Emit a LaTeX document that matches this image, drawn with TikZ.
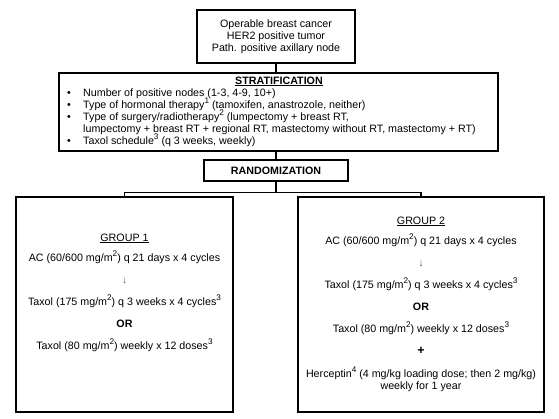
\documentclass[tikz,border=0pt]{standalone}
\usepackage{fontspec}
\setmainfont{Liberation Sans}
\newcommand{\mysup}[1]{\raisebox{0.4em}{\fontsize{8.2}{9}\selectfont #1}}
\begin{document}
\begin{tikzpicture}[x=1pt,y=-1pt,
  box/.style={draw, line width=1.2pt, inner sep=0pt},
  conn/.style={line width=1.1pt},
  txt/.style={font=\fontsize{10.7}{12}\selectfont, inner sep=0pt, anchor=base},
  ltxt/.style={txt, anchor=base west},
  bul/.style={font=\fontsize{10.7}{12}\selectfont, inner sep=0pt, anchor=base}]
\useasboundingbox (0,0) rectangle (559,418);
% boxes
\node[box, minimum width=158pt, minimum height=53pt, align=center,
      font=\fontsize{10.7}{12}\selectfont] (top) at (276,36.5)
      {Operable breast cancer\\HER2 positive tumor\\Path. positive axillary node};
\node[box, minimum width=439pt, minimum height=78pt] (strat) at (278.5,112) {};
\node[box, minimum width=144pt, minimum height=21pt,
      font=\fontsize{10.7}{12}\selectfont\bfseries] (rand) at (276,170.5) {RANDOMIZATION};
\node[box, minimum width=217pt, minimum height=215pt] (g1) at (124.5,304.5) {};
\node[box, minimum width=246pt, minimum height=215pt] (g2) at (421,304.5) {};
% stratification text
\node[txt, font=\fontsize{10.7}{12}\selectfont\bfseries] (sh) at (279,84) {\underline{STRATIFICATION}};
\node[bul] (b1) at (69,96) {•};
\node[ltxt] (s1) at (83,96) {Number of positive nodes (1-3, 4-9, 10+)};
\node[bul] (b2) at (69,108) {•};
\node[ltxt] (s2) at (83,108) {Type of hormonal therapy\mysup{1} (tamoxifen, anastrozole, neither)};
\node[bul] (b3) at (69,120) {•};
\node[ltxt] (s3) at (83,120) {Type of surgery/radiotherapy\mysup{2} (lumpectomy + breast RT,};
\node[ltxt] (s3b) at (83,132) {lumpectomy + breast RT + regional RT, mastectomy without RT, mastectomy + RT)};
\node[bul] (b4) at (69,144) {•};
\node[ltxt] (s4) at (83,144) {Taxol schedule\mysup{3} (q 3 weeks, weekly)};
% group 1 text
\node[txt] (h1) at (124.5,241) {\underline{GROUP 1}};
\node[txt] (a1) at (124.5,261) {AC (60/600 mg/m\mysup{2}) q 21 days x 4 cycles};
\node[txt, font=\fontsize{10}{10}\selectfont, text=black!70] (ar1) at (124.5,283) {↓};
\node[txt] (t1) at (124.5,305) {Taxol (175 mg/m\mysup{2}) q 3 weeks x 4 cycles\mysup{3}};
\node[txt, font=\fontsize{10.7}{12}\selectfont\bfseries] (o1) at (124.5,327) {OR};
\node[txt] (w1) at (124.5,349) {Taxol (80 mg/m\mysup{2}) weekly x 12 doses\mysup{3}};
% group 2 text
\node[txt] (h2) at (421,224) {\underline{GROUP 2}};
\node[txt] (a2) at (421,244) {AC (60/600 mg/m\mysup{2}) q 21 days x 4 cycles};
\node[txt, font=\fontsize{10}{10}\selectfont, text=black!70] (ar2) at (421,266) {↓};
\node[txt] (t2) at (421,288) {Taxol (175 mg/m\mysup{2}) q 3 weeks x 4 cycles\mysup{3}};
\node[txt, font=\fontsize{10.7}{12}\selectfont\bfseries] (o2) at (421,310) {OR};
\node[txt] (w2) at (421,332) {Taxol (80 mg/m\mysup{2}) weekly x 12 doses\mysup{3}};
\node[txt, font=\fontsize{12.5}{12}\selectfont\bfseries] (p2) at (421,354) {+};
\node[txt] (hc) at (421,377) {Herceptin\mysup{4} (4 mg/kg loading dose; then 2 mg/kg)};
\node[txt] (hc2) at (421,389) {weekly for 1 year};
% connectors
\draw[conn] (top.south) -- (top.south |- strat.north);
\draw[conn] (rand.north |- strat.south) -- (rand.north);
\draw[conn] (rand.south) -- ++(0,10.5) coordinate (j);
\draw[conn] (g1.north) |- (j) -| (g2.north);
\end{tikzpicture}
\end{document}
